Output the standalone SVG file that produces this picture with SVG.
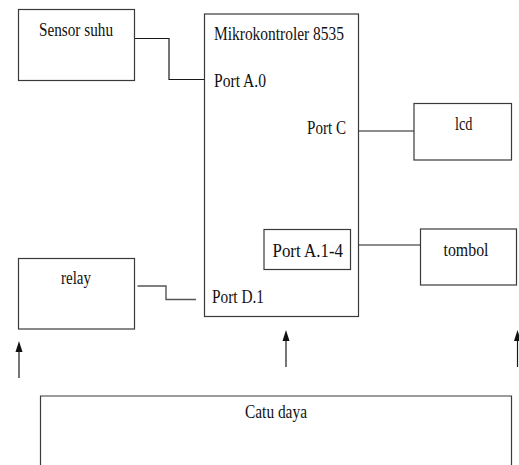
<svg xmlns="http://www.w3.org/2000/svg" width="519" height="465" viewBox="0 0 519 465">
<defs>
<style>
.box{fill:#fff;stroke:#3a3a3a;stroke-width:1.2}
.ln{fill:none;stroke:#1a1a1a;stroke-width:1.2}
.lg{fill:none;stroke:#555;stroke-width:1.4}
.ah{fill:#111}
.t{font-family:"Liberation Serif","Times New Roman",serif;font-size:19px;fill:#111}
</style>
</defs>
<rect width="519" height="465" fill="#fff"/>
<g id="connectors">
<polyline class="ln" points="134.5,38.5 169,38.5 169,79.5 204.5,79.5"/>
<polyline class="ln" points="358.5,131 420.5,131"/>
<polyline class="ln" points="359,245 420.5,245"/>
<polyline class="lg" points="137.5,286 166,286 166,299.5 196,299.5"/>
<path d="M19,378 L19,350" class="ln"/>
<path class="ah" d="M19,341 L22.5,352 L15.5,352 Z"/>
<path d="M286,367 L286,339" class="ln"/>
<path class="ah" d="M286,330 L289.5,341 L282.5,341 Z"/>
<path d="M517.5,367 L517.5,339" class="ln"/>
<path class="ah" d="M517.5,330 L521,341 L514,341 Z"/>
</g>
<g id="sensor-suhu">
<rect class="box" x="18.5" y="9.5" width="116" height="71"/>
<text class="t" x="39" y="35.5" textLength="74" lengthAdjust="spacingAndGlyphs">Sensor suhu</text>
</g>
<g id="mikrokontroler">
<rect class="box" x="204.5" y="14" width="154" height="302.5"/>
<text class="t" x="214" y="40" textLength="130" lengthAdjust="spacingAndGlyphs">Mikrokontroler 8535</text>
<text class="t" x="214" y="87" textLength="52" lengthAdjust="spacingAndGlyphs">Port A.0</text>
<text class="t" x="307" y="134" textLength="39" lengthAdjust="spacingAndGlyphs">Port C</text>
<text class="t" x="212" y="303" textLength="52" lengthAdjust="spacingAndGlyphs">Port D.1</text>
</g>
<g id="port-a14">
<rect class="box" x="264" y="229.5" width="86.5" height="40"/>
<text class="t" x="272.5" y="257" textLength="70.5" lengthAdjust="spacingAndGlyphs">Port A.1-4</text>
</g>
<g id="lcd">
<rect class="box" x="414" y="103.5" width="97.5" height="56.5"/>
<text class="t" x="455" y="129.5" textLength="17.5" lengthAdjust="spacingAndGlyphs">lcd</text>
</g>
<g id="tombol">
<rect class="box" x="420.5" y="229" width="96" height="56"/>
<text class="t" x="443.5" y="256" textLength="45" lengthAdjust="spacingAndGlyphs">tombol</text>
</g>
<g id="relay">
<rect class="box" x="18.5" y="258.5" width="116" height="70.5"/>
<text class="t" x="61" y="284" textLength="30" lengthAdjust="spacingAndGlyphs">relay</text>
</g>
<g id="catu-daya">
<path class="box" d="M40.5,470 L40.5,396 L511.5,396 L511.5,470"/>
<text class="t" x="245" y="418" textLength="62" lengthAdjust="spacingAndGlyphs">Catu daya</text>
</g>
</svg>
